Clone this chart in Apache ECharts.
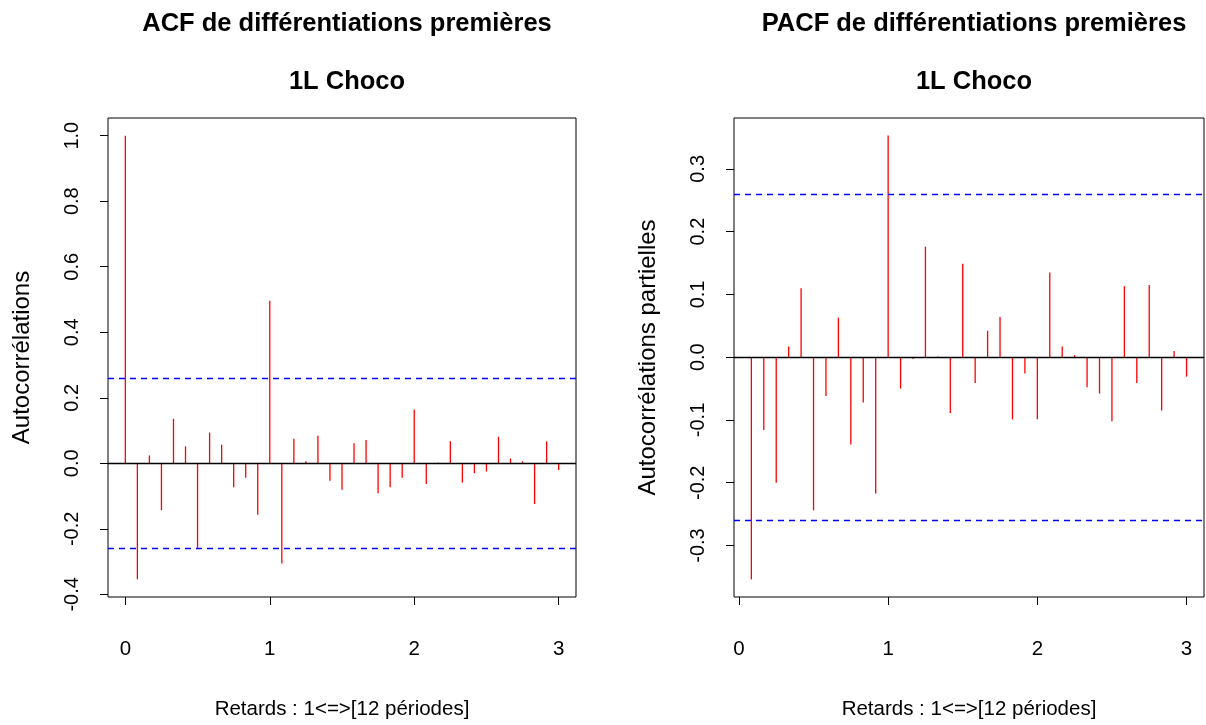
<!DOCTYPE html>
<html><head><meta charset="utf-8">
<script src="https://cdn.jsdelivr.net/npm/echarts@6/dist/echarts.min.js"></script>
<style>html,body{margin:0;padding:0;background:#fff}#c{width:1206px;height:725px}</style>
</head><body><div id="c"></div>
<script>
const period = 12;
const acfLags = [0,1,2,3,4,5,6,7,8,9,10,11,12,13,14,15,16,17,18,19,20,21,22,23,24,25,26,27,28,29,30,31,32,33,34,35,36];
const acfValues = [1.0,-0.354,0.024,-0.143,0.136,0.052,-0.258,0.094,0.057,-0.073,-0.044,-0.157,0.496,-0.306,0.075,0.006,0.084,-0.053,-0.081,0.061,0.071,-0.091,-0.073,-0.044,0.164,-0.063,0.002,0.067,-0.059,-0.030,-0.025,0.081,0.015,0.006,-0.124,0.067,-0.020];
const pacfLags = [1,2,3,4,5,6,7,8,9,10,11,12,13,14,15,16,17,18,19,20,21,22,23,24,25,26,27,28,29,30,31,32,33,34,35,36];
const pacfValues = [-0.354,-0.116,-0.200,0.017,0.110,-0.244,-0.062,0.063,-0.139,-0.072,-0.217,0.353,-0.050,-0.003,0.176,0.001,-0.089,0.149,-0.041,0.042,0.064,-0.099,-0.026,-0.099,0.135,0.017,0.003,-0.048,-0.058,-0.102,0.113,-0.041,0.115,-0.085,0.010,-0.031];
const ciBound = 0.255;
const xTicks = [0,1,2,3];
const acfYTicks = [-0.4,-0.2,0.0,0.2,0.4,0.6,0.8,1.0];
const pacfYTicks = [-0.3,-0.2,-0.1,0.0,0.1,0.2,0.3];
const titles = ['ACF de différentiations premières','PACF de différentiations premières'];
const subtitle = '1L Choco';
const xName = 'Retards : 1<=>[12 périodes]';
const yNames = ['Autocorrélations','Autocorrélations partielles'];

const FONT = '"Liberation Sans", Arial, sans-serif';
const grids = [
  {left:108, top:118, width:468, height:482},
  {left:734, top:118, width:470, height:482}
];
function fmt(v){ return v.toFixed(1); }
function xAxis(i, minV, maxV){
  return {type:'value', gridIndex:i, min:minV, max:maxV,
    name:xName, nameLocation:'middle', nameGap:102,
    nameTextStyle:{fontFamily:FONT, fontSize:20.5, color:'#000'},
    axisLine:{show:false, onZero:false}, splitLine:{show:false},
    axisTick:{show:true, length:8, lineStyle:{color:'#000', width:1}, customValues:xTicks},
    axisLabel:{color:'#000', fontFamily:FONT, fontSize:20.5, margin:42, customValues:xTicks, formatter:v=>String(v)}
  };
}
function yAxis(i, minV, maxV, ticks){
  return {type:'value', gridIndex:i, min:minV, max:maxV,
    name:yNames[i], nameLocation:'middle', nameGap:74,
    nameTextStyle:{fontFamily:FONT, fontSize:24, color:'#000'},
    axisLine:{show:false, onZero:false}, splitLine:{show:false},
    axisTick:{show:true, length:8, lineStyle:{color:'#000', width:1}, customValues:ticks},
    axisLabel:{color:'#000', fontFamily:FONT, fontSize:20, rotate:90, margin:26, customValues:ticks, formatter:fmt}
  };
}
function stem(params, api){
  const x = api.value(0), y = api.value(1);
  const p0 = api.coord([x,0]), p1 = api.coord([x,y]);
  return {type:'line', shape:{x1:p0[0], y1:p0[1], x2:p1[0], y2:p1[1]}, style:{stroke:'#ff0000', lineWidth:1.3}};
}
function refLines(){
  return {symbol:'none', silent:true, label:{show:false}, animation:false,
    data:[
      {yAxis:0, lineStyle:{color:'#000', type:'solid', width:1.3}},
      {yAxis:ciBound, lineStyle:{color:'#0000ff', type:[6,5], width:1.3}},
      {yAxis:-ciBound, lineStyle:{color:'#0000ff', type:[6,5], width:1.3}}
    ]};
}
const TS = {fontFamily:FONT, fontSize:25.5, fontWeight:'bold', color:'#000'};
const chart = echarts.init(document.getElementById('c'), null, {renderer:'canvas'});
chart.setOption({
  animation:false,
  backgroundColor:'#fff',
  title:[
    {text:titles[0], left:342, top:6, textAlign:'center', textStyle:TS},
    {text:subtitle, left:342, top:64, textAlign:'center', textStyle:TS},
    {text:titles[1], left:969, top:6, textAlign:'center', textStyle:TS},
    {text:subtitle, left:969, top:64, textAlign:'center', textStyle:TS}
  ],
  grid:grids.map(g=>Object.assign({show:true, borderColor:'#000', borderWidth:1, backgroundColor:'transparent'}, g)),
  xAxis:[xAxis(0,-0.12,3.12), xAxis(1,-0.033,3.117)],
  yAxis:[yAxis(0,-0.408,1.054,acfYTicks), yAxis(1,-0.382,0.381,pacfYTicks)],
  series:[
    {type:'custom', xAxisIndex:0, yAxisIndex:0, renderItem:stem,
     data:acfLags.map((k,i)=>[k/period, acfValues[i]]), markLine:refLines()},
    {type:'custom', xAxisIndex:1, yAxisIndex:1, renderItem:stem,
     data:pacfLags.map((k,i)=>[k/period, pacfValues[i]]), markLine:refLines()}
  ]
});
</script></body></html>
